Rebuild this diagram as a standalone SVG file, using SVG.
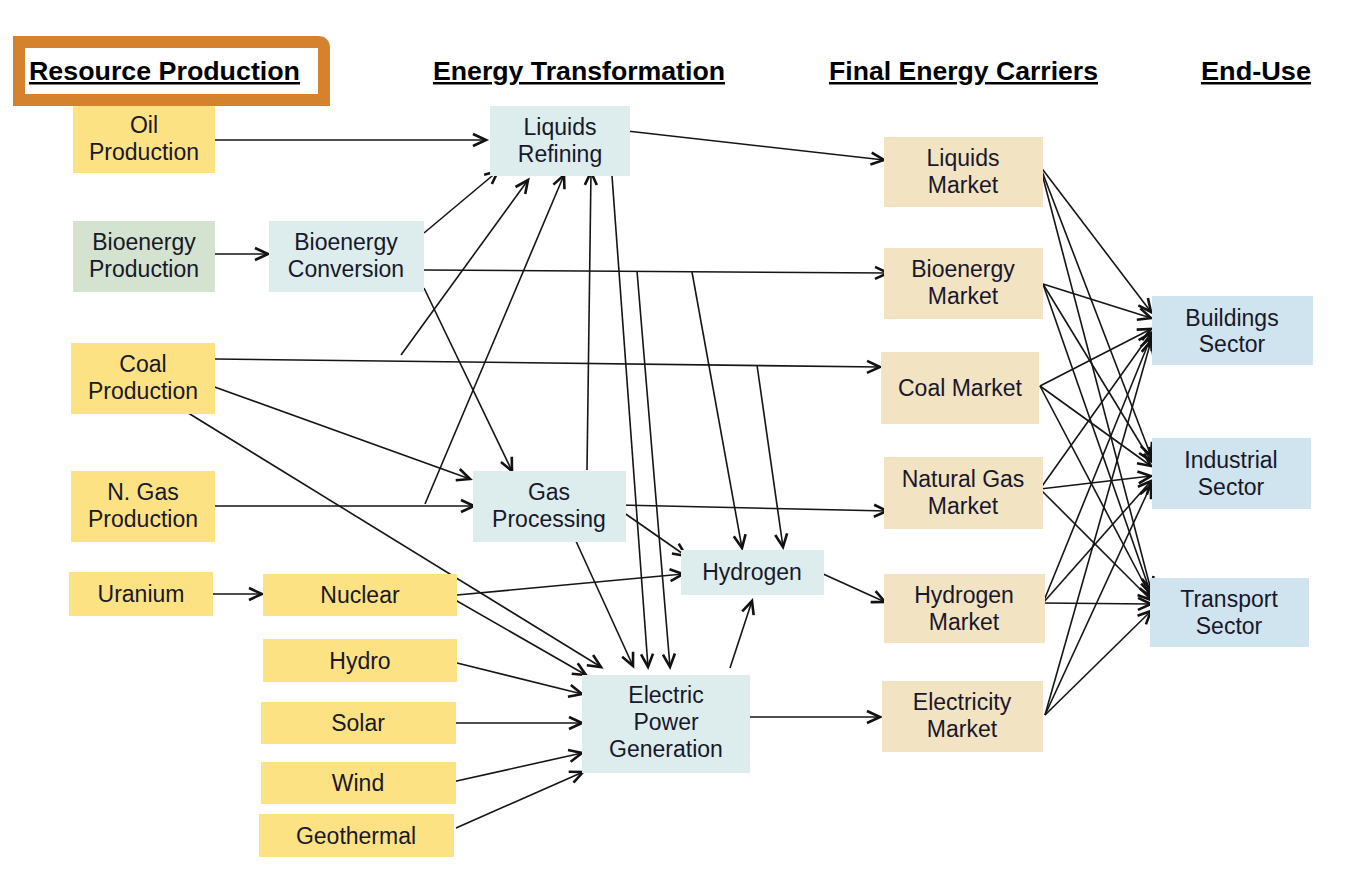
<svg xmlns="http://www.w3.org/2000/svg" width="1369" height="884" viewBox="0 0 1369 884">
  <defs>
    <marker id="arr" markerUnits="userSpaceOnUse" markerWidth="20" markerHeight="16" refX="15" refY="8" orient="auto">
      <path d="M2,2 L15,8 L2,14" fill="none" stroke="#111" stroke-width="2.6" stroke-linejoin="miter"/>
    </marker>
    <style>
      .res { fill: #FDE283; }
      .bio { fill: #D3E3CF; }
      .tr { fill: #DDEDEE; }
      .mk { fill: #F2E3C2; }
      .eu { fill: #CFE4EF; }
      text { font-family: "Liberation Sans", Arial, sans-serif; font-size: 23px; fill: #18182a; text-anchor: middle; }
      .hd { font-weight: bold; font-size: 25px; fill: #000; text-anchor: start; text-decoration: underline; }
      .cn line { stroke: #151515; stroke-width: 1.6; marker-end: url(#arr); }
    </style>
  </defs>
  <rect width="1369" height="884" fill="#fff"/>

  <!-- column headings -->
  <g id="headings">
    <path d="M19,42 H318 Q324,42 324,48 V100 H19 Z" fill="#fff" stroke="#D5822F" stroke-width="12"/>
    <text class="hd" x="29" y="80" textLength="271" lengthAdjust="spacingAndGlyphs">Resource Production</text>
    <text class="hd" x="433" y="80" textLength="292" lengthAdjust="spacingAndGlyphs">Energy Transformation</text>
    <text class="hd" x="829" y="80" textLength="269" lengthAdjust="spacingAndGlyphs">Final Energy Carriers</text>
    <text class="hd" x="1201" y="80" textLength="110" lengthAdjust="spacingAndGlyphs">End-Use</text>
  </g>

  <!-- connectors -->
  <g id="connectors" class="cn">
    <!-- resources to transformation -->
    <line x1="215" y1="140" x2="486" y2="140"/>
    <line x1="215" y1="254" x2="268" y2="254"/>
    <line x1="424" y1="233" x2="498" y2="171"/>
    <line x1="424" y1="270" x2="888" y2="273"/>
    <line x1="424" y1="288" x2="512" y2="471"/>
    <line x1="401" y1="355" x2="528" y2="180"/>
    <line x1="425" y1="504" x2="564" y2="175"/>
    <line x1="587" y1="470" x2="591" y2="172"/>
    <line x1="627" y1="131" x2="884" y2="160"/>
    <line x1="612" y1="176" x2="648" y2="667"/>
    <line x1="637" y1="271" x2="670" y2="667"/>
    <line x1="692" y1="272" x2="742" y2="548"/>
    <line x1="757" y1="365" x2="783" y2="547"/>
    <line x1="215" y1="359" x2="880" y2="367"/>
    <line x1="209" y1="385" x2="470" y2="479"/>
    <line x1="185" y1="411" x2="601" y2="667"/>
    <line x1="215" y1="506" x2="474" y2="506"/>
    <line x1="619" y1="505" x2="887" y2="511"/>
    <line x1="620" y1="510" x2="686" y2="556"/>
    <line x1="575" y1="539" x2="633" y2="666"/>
    <line x1="457" y1="595" x2="683" y2="574"/>
    <line x1="450" y1="597" x2="586" y2="675"/>
    <line x1="213" y1="594" x2="262" y2="594"/>
    <line x1="457" y1="663" x2="582" y2="694"/>
    <line x1="456" y1="723" x2="582" y2="723"/>
    <line x1="452" y1="782" x2="582" y2="753"/>
    <line x1="456" y1="828" x2="583" y2="772"/>
    <line x1="730" y1="668" x2="752" y2="601"/>
    <line x1="821" y1="573" x2="885" y2="602"/>
    <line x1="750" y1="717" x2="880" y2="717"/>

    <!-- markets to end-use sectors -->
    <line x1="1040" y1="166" x2="1151" y2="312"/>
    <line x1="1040" y1="166" x2="1151" y2="456"/>
    <line x1="1040" y1="166" x2="1151" y2="590"/>
    <line x1="1043" y1="284" x2="1151" y2="318"/>
    <line x1="1043" y1="284" x2="1151" y2="461"/>
    <line x1="1043" y1="284" x2="1151" y2="594"/>
    <line x1="1040" y1="386" x2="1151" y2="329"/>
    <line x1="1040" y1="386" x2="1151" y2="466"/>
    <line x1="1040" y1="386" x2="1151" y2="597"/>
    <line x1="1040" y1="489" x2="1151" y2="333"/>
    <line x1="1040" y1="489" x2="1151" y2="476"/>
    <line x1="1040" y1="489" x2="1151" y2="600"/>
    <line x1="1043" y1="603" x2="1151" y2="337"/>
    <line x1="1043" y1="603" x2="1151" y2="481"/>
    <line x1="1043" y1="603" x2="1151" y2="604"/>
    <line x1="1045" y1="715" x2="1151" y2="341"/>
    <line x1="1045" y1="715" x2="1151" y2="485"/>
    <line x1="1045" y1="715" x2="1151" y2="611"/>
  </g>

  <!-- resource production -->
  <g id="oil-production"><rect class="res" x="73" y="106" width="142" height="67"/><text x="144" y="133">Oil</text><text x="144" y="160">Production</text></g>
  <g id="bioenergy-production"><rect class="bio" x="73" y="221" width="142" height="71"/><text x="144" y="250">Bioenergy</text><text x="144" y="277">Production</text></g>
  <g id="coal-production"><rect class="res" x="71" y="343" width="144" height="71"/><text x="143" y="372">Coal</text><text x="143" y="399">Production</text></g>
  <g id="ngas-production"><rect class="res" x="71" y="471" width="144" height="71"/><text x="143" y="500">N. Gas</text><text x="143" y="527">Production</text></g>
  <g id="uranium"><rect class="res" x="69" y="572" width="144" height="44"/><text x="141" y="602">Uranium</text></g>
  <g id="bioenergy-conversion"><rect class="tr" x="269" y="221" width="155" height="71"/><text x="346" y="250">Bioenergy</text><text x="346" y="277">Conversion</text></g>
  <g id="nuclear"><rect class="res" x="263" y="574" width="194" height="42"/><text x="360" y="603">Nuclear</text></g>
  <g id="hydro"><rect class="res" x="263" y="639" width="194" height="43"/><text x="360" y="669">Hydro</text></g>
  <g id="solar"><rect class="res" x="261" y="702" width="195" height="42"/><text x="358" y="731">Solar</text></g>
  <g id="wind"><rect class="res" x="261" y="762" width="195" height="42"/><text x="358" y="791">Wind</text></g>
  <g id="geothermal"><rect class="res" x="259" y="814" width="195" height="43"/><text x="356" y="844">Geothermal</text></g>

  <!-- energy transformation -->
  <g id="liquids-refining"><rect class="tr" x="490" y="106" width="140" height="70"/><text x="560" y="135">Liquids</text><text x="560" y="162">Refining</text></g>
  <g id="gas-processing"><rect class="tr" x="473" y="471" width="153" height="71"/><text x="549" y="500">Gas</text><text x="549" y="527">Processing</text></g>
  <g id="hydrogen"><rect class="tr" x="681" y="550" width="143" height="45"/><text x="752" y="580">Hydrogen</text></g>
  <g id="electric-power"><rect class="tr" x="582" y="675" width="168" height="98"/><text x="666" y="703">Electric</text><text x="666" y="730">Power</text><text x="666" y="757">Generation</text></g>

  <!-- final energy carriers -->
  <g id="liquids-market"><rect class="mk" x="884" y="137" width="159" height="70"/><text x="963" y="166">Liquids</text><text x="963" y="193">Market</text></g>
  <g id="bioenergy-market"><rect class="mk" x="884" y="248" width="159" height="71"/><text x="963" y="277">Bioenergy</text><text x="963" y="304">Market</text></g>
  <g id="coal-market"><rect class="mk" x="881" y="352" width="158" height="72"/><text x="960" y="396">Coal Market</text></g>
  <g id="natural-gas-market"><rect class="mk" x="884" y="457" width="159" height="72"/><text x="963" y="487">Natural Gas</text><text x="963" y="514">Market</text></g>
  <g id="hydrogen-market"><rect class="mk" x="884" y="574" width="161" height="69"/><text x="964" y="603">Hydrogen</text><text x="964" y="630">Market</text></g>
  <g id="electricity-market"><rect class="mk" x="882" y="681" width="161" height="71"/><text x="962" y="710">Electricity</text><text x="962" y="737">Market</text></g>

  <!-- end-use sectors -->
  <g id="buildings-sector"><rect class="eu" x="1152" y="296" width="161" height="69"/><text x="1232" y="326">Buildings</text><text x="1232" y="352">Sector</text></g>
  <g id="industrial-sector"><rect class="eu" x="1152" y="438" width="159" height="71"/><text x="1231" y="468">Industrial</text><text x="1231" y="495">Sector</text></g>
  <g id="transport-sector"><rect class="eu" x="1150" y="578" width="159" height="69"/><text x="1229" y="607">Transport</text><text x="1229" y="634">Sector</text></g>
</svg>
